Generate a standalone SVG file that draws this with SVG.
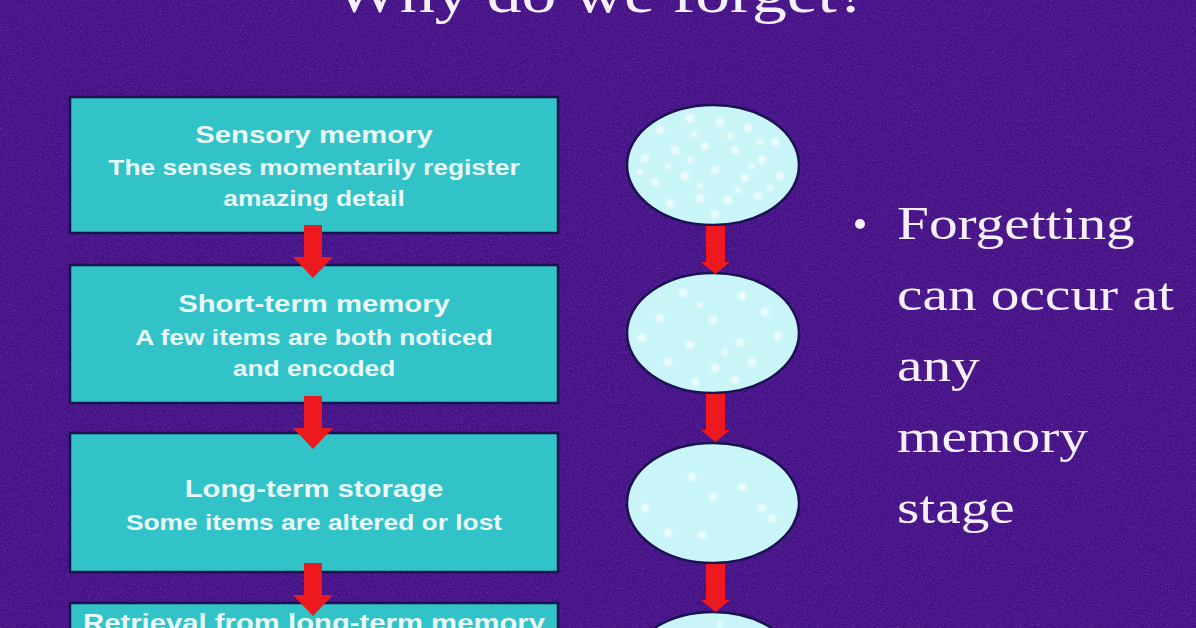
<svg xmlns="http://www.w3.org/2000/svg" width="1196" height="628" viewBox="0 0 1196 628">
<defs>
<filter id="noise" x="0" y="0" width="100%" height="100%">
<feTurbulence type="fractalNoise" baseFrequency="0.7" numOctaves="2" seed="7"/>
<feColorMatrix values="0 0 0 0 0.1  0 0 0 0 0.02  0 0 0 0 0.3  1.5 0 0 0 -0.4"/>
</filter>
<filter id="noise2" x="0" y="0" width="100%" height="100%">
<feTurbulence type="fractalNoise" baseFrequency="0.5" numOctaves="2" seed="21"/>
<feColorMatrix values="0 0 0 0 0.38  0 0 0 0 0.06  0 0 0 0 0.5  0 1.0 0 0 -0.55"/>
</filter>
<filter id="soft"><feGaussianBlur stdDeviation="1.4"/></filter>
<style>
.box{fill:#31c3c8;stroke:#1a1350;stroke-width:2.5}
.bt{font-family:"Liberation Sans",Arial,sans-serif;font-weight:bold;fill:#eaf8f8;text-anchor:middle}
.h{font-size:24px}
.s{font-size:21.6px}
.oval{fill:#c9f5f8;stroke:#1a1252;stroke-width:2.5}
.dot{fill:#ffffff;opacity:0.7}
.arr{fill:#ec1a1f}
.serif{font-family:"Liberation Serif","Times New Roman",serif;fill:#f5f0fa}
</style>
</defs>
<rect width="1196" height="628" fill="#3e0d82"/>
<rect width="1196" height="628" filter="url(#noise)"/>
<rect width="1196" height="628" filter="url(#noise2)"/>

<g id="title">
<text class="serif" font-size="57" text-anchor="middle" transform="translate(601,12) scale(1.22,1)">Why do we forget?</text>
</g>

<g id="box1">
<rect class="box" x="70" y="97" width="488" height="136"/>
<text class="bt h" transform="translate(314,143) scale(1.22,1)">Sensory memory</text>
<text class="bt s" transform="translate(314,175) scale(1.22,1)">The senses momentarily register</text>
<text class="bt s" transform="translate(314,206) scale(1.22,1)">amazing detail</text>
</g>
<g id="box2">
<rect class="box" x="70" y="265" width="488" height="138"/>
<text class="bt h" transform="translate(314,312) scale(1.22,1)">Short-term memory</text>
<text class="bt s" transform="translate(314,345) scale(1.22,1)">A few items are both noticed</text>
<text class="bt s" transform="translate(314,376) scale(1.22,1)">and encoded</text>
</g>
<g id="box3">
<rect class="box" x="70" y="433" width="488" height="139"/>
<text class="bt h" transform="translate(314,497) scale(1.22,1)">Long-term storage</text>
<text class="bt s" transform="translate(314,530) scale(1.22,1)">Some items are altered or lost</text>
</g>
<g id="box4">
<rect class="box" x="70" y="603" width="488" height="40"/>
<text class="bt h" transform="translate(314,631) scale(1.22,1)">Retrieval from long-term memory</text>
</g>

<g id="oval1">
<ellipse class="oval" cx="713" cy="165" rx="86" ry="60"/>
<g class="dot" filter="url(#soft)">
<circle cx="660" cy="130" r="4"/><circle cx="690" cy="118" r="4"/><circle cx="720" cy="122" r="4"/><circle cx="748" cy="128" r="4"/><circle cx="775" cy="142" r="4"/>
<circle cx="645" cy="158" r="4"/><circle cx="675" cy="150" r="4"/><circle cx="705" cy="146" r="4"/><circle cx="735" cy="150" r="4"/><circle cx="762" cy="160" r="4"/>
<circle cx="655" cy="182" r="4"/><circle cx="685" cy="176" r="4"/><circle cx="715" cy="170" r="4"/><circle cx="745" cy="178" r="4"/><circle cx="780" cy="176" r="4"/>
<circle cx="670" cy="203" r="4"/><circle cx="700" cy="198" r="4"/><circle cx="728" cy="200" r="4"/><circle cx="758" cy="196" r="4"/><circle cx="715" cy="214" r="4"/>
<circle cx="640" cy="172" r="3"/><circle cx="694" cy="134" r="3"/><circle cx="730" cy="136" r="3"/><circle cx="760" cy="142" r="3"/><circle cx="668" cy="166" r="3"/>
<circle cx="700" cy="186" r="3"/><circle cx="738" cy="190" r="3"/><circle cx="770" cy="188" r="3"/><circle cx="690" cy="160" r="3"/><circle cx="752" cy="166" r="3"/>
</g>
</g>
<g id="oval2">
<ellipse class="oval" cx="713" cy="333" rx="86" ry="60"/>
<g class="dot" filter="url(#soft)">
<circle cx="683" cy="293" r="4"/><circle cx="742" cy="296" r="4"/><circle cx="765" cy="312" r="4"/><circle cx="660" cy="318" r="4"/>
<circle cx="713" cy="320" r="4"/><circle cx="642" cy="338" r="4"/><circle cx="690" cy="345" r="4"/><circle cx="740" cy="342" r="4"/>
<circle cx="778" cy="336" r="4"/><circle cx="668" cy="362" r="4"/><circle cx="715" cy="368" r="4"/><circle cx="752" cy="362" r="4"/>
<circle cx="695" cy="382" r="4"/><circle cx="735" cy="380" r="4"/><circle cx="700" cy="305" r="3"/><circle cx="725" cy="352" r="3"/>
</g>
</g>
<g id="oval3">
<ellipse class="oval" cx="713" cy="503" rx="86" ry="60"/>
<g class="dot" filter="url(#soft)">
<circle cx="692" cy="477" r="4"/><circle cx="742" cy="487" r="4"/><circle cx="713" cy="497" r="4"/><circle cx="762" cy="508" r="4"/>
<circle cx="645" cy="508" r="4"/><circle cx="772" cy="518" r="4"/><circle cx="702" cy="535" r="4"/><circle cx="668" cy="533" r="4"/>
</g>
</g>
<g id="oval4">
<ellipse class="oval" cx="713" cy="672" rx="86" ry="60"/>
<g class="dot" filter="url(#soft)">
<circle cx="720" cy="624" r="3"/>
</g>
</g>

<g id="text-bullet">
<circle cx="860" cy="224" r="5" fill="#f5f0fa"/>
<text class="serif" font-size="47" transform="translate(897,239) scale(1.22,1)">Forgetting</text>
<text class="serif" font-size="47" transform="translate(897,310) scale(1.22,1)">can occur at</text>
<text class="serif" font-size="47" transform="translate(897,381) scale(1.22,1)">any</text>
<text class="serif" font-size="47" transform="translate(897,452) scale(1.22,1)">memory</text>
<text class="serif" font-size="47" transform="translate(897,523) scale(1.22,1)">stage</text>
</g>

<g id="connectors">
<path class="arr" d="M304,225 H322 V257 H333 L313,278 L293,257 H304 Z"/>
<path class="arr" d="M304,396 H322 V428 H333 L313,449 L293,428 H304 Z"/>
<path class="arr" d="M304,563 H322 V595 H333 L313,616 L293,595 H304 Z"/>
<path class="arr" d="M706,226 H725 V262 H730 L715.5,274 L701,262 H706 Z"/>
<path class="arr" d="M706,394 H725 V430 H730 L715.5,442 L701,430 H706 Z"/>
<path class="arr" d="M706,564 H725 V600 H730 L715.5,612 L701,600 H706 Z"/>
</g>
</svg>
